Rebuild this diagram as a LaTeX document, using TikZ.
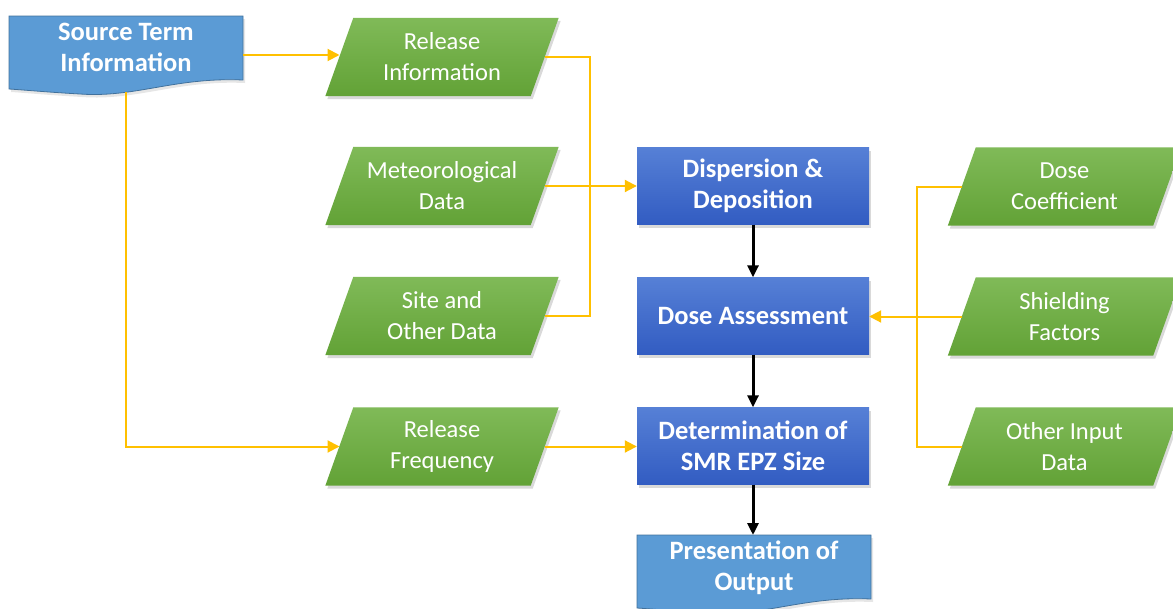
\documentclass[tikz,border=0pt]{standalone}
\usepackage{fontspec}
\setmainfont{Carlito}
\usetikzlibrary{arrows.meta,shadows,calc,backgrounds}
\definecolor{oline}{RGB}{255,192,0}
\definecolor{gtop}{RGB}{128,186,88}
\definecolor{gbot}{RGB}{98,162,54}
\definecolor{btop}{RGB}{86,128,214}
\definecolor{bbot}{RGB}{50,92,194}
\definecolor{docfill}{RGB}{91,155,213}
\definecolor{docedge}{RGB}{65,113,156}
\tikzset{
  txt/.style={font=\fontsize{24.5}{31}\selectfont, text=white, align=center, inner sep=0pt},
  paranode/.style={txt, minimum width=233pt, minimum height=78pt},
  docnode/.style={txt, font=\fontsize{26.5}{31}\selectfont\bfseries},
  bluebox/.style={txt, font=\fontsize{26.5}{31}\selectfont\bfseries, minimum width=232pt, minimum height=77pt,
     top color=btop, bottom color=bbot,
     drop shadow={shadow xshift=2pt,shadow yshift=-3pt,opacity=0.3}},
  greenfill/.style={top color=gtop, bottom color=gbot,
     drop shadow={shadow xshift=2pt,shadow yshift=-3pt,opacity=0.3}},
  docshape/.style={fill=docfill, draw=docedge, line width=0.8pt,
     drop shadow={shadow xshift=2pt,shadow yshift=-3pt,opacity=0.2}},
  oarrow/.style={draw=oline, line width=2pt, -{Triangle[length=12pt,width=12pt]}},
  oline/.style={draw=oline, line width=2pt},
  barrow/.style={draw=black, line width=3pt, -{Triangle[length=12pt,width=11pt]}}
}
\newcommand\paraShape[1]{%
  \shade[greenfill] ($(#1.north west)+(28,0)$) -- (#1.north east) -- ($(#1.south east)+(-28,0)$) -- (#1.south west) -- cycle;}
\begin{document}
\begin{tikzpicture}[x=1pt,y=-1pt]
\clip (0,0) rectangle (1173,608);
% source term document
\path[docshape] (9,16) -- (243,16) -- (243,80) .. controls (175,77) and (135,98) .. (80,94) .. controls (45,92) and (25,90) .. (9,89) -- cycle;
\node[docnode] (src) at (126,47.5) {Source Term\\Information};
\coordinate (src-e) at (243,55);
\coordinate (src-s) at (126,92);
% presentation document
\path[docshape] (637,535) -- (871,535) -- (871,599) .. controls (803,596) and (763,617) .. (708,613) .. controls (673,611) and (653,609) .. (637,608) -- cycle;
\node[docnode] (pres) at (754,568) {Presentation of\\Output};
\coordinate (pres-n) at (753,535);
% green inputs
\node[paranode] (ri) at (442,57) {Release\\Information};
\node[paranode] (met) at (442,186) {Meteorological\\Data};
\node[paranode] (site) at (442,316) {Site and\\Other Data};
\node[paranode] (rf) at (442,446.5) {Release\\Frequency};
\node[paranode] (dc) at (1064.5,186.5) {Dose\\Coefficient};
\node[paranode] (sf) at (1064.5,316.5) {Shielding\\Factors};
\node[paranode] (oi) at (1064.5,446.5) {Other Input\\Data};
\begin{scope}[on background layer]
  \paraShape{ri}\paraShape{met}\paraShape{site}\paraShape{rf}
  \paraShape{dc}\paraShape{sf}\paraShape{oi}
\end{scope}
\foreach \n in {ri,met,site,rf,dc,sf,oi}{
  \coordinate (\n-w) at ($(\n.center)+(-102.5,0)$);
  \coordinate (\n-e) at ($(\n.center)+(102.5,0)$);
}
% blue process boxes
\node[bluebox] (disp) at (753,186) {Dispersion \&\\Deposition};
\node[bluebox] (dose) at (753,316) {Dose Assessment};
\node[bluebox] (det) at (753,446) {Determination of\\SMR EPZ Size};
% orange connectors
\draw[oarrow] (src-e) -- (src-e -| ri-w);
\draw[oarrow] (src-s) |- (rf-w);
\draw[oline] (ri-e) -- ++(45.5,0) |- (site-e);
\draw[oarrow] (met-e) -- (met-e -| disp.west);
\draw[oarrow] (rf-e) -- (rf-e -| det.west);
\draw[oline] (dc-w) -- ++(-45,0) |- (oi-w);
\draw[oarrow] (sf-w) -- (sf-w -| dose.east);
% black connectors
\draw[barrow] (disp.south) -- (dose.north);
\draw[barrow] (dose.south) -- (det.north);
\draw[barrow] (det.south) -- (pres-n);
\end{tikzpicture}
\end{document}
